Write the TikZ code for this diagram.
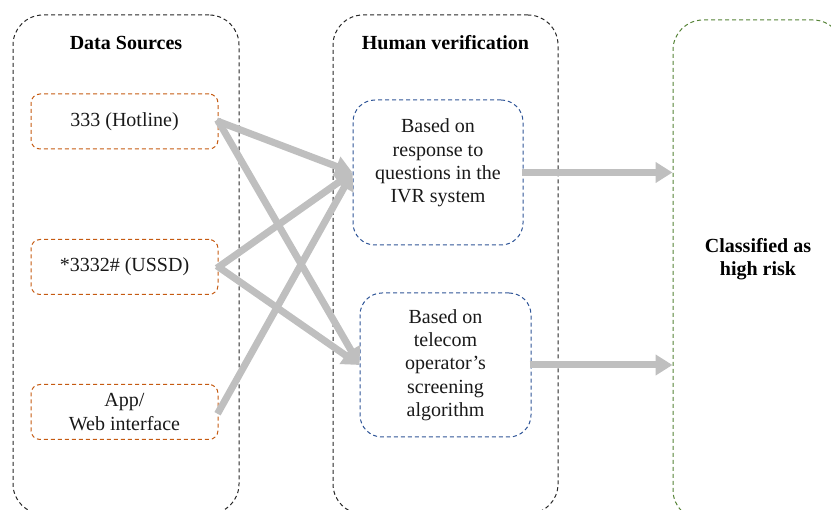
\documentclass[tikz,border=0pt]{standalone}
\usepackage{fontspec}
\setmainfont{Liberation Serif}
\usetikzlibrary{arrows.meta}
\definecolor{srcorange}{HTML}{C55A11}
\definecolor{verblue}{HTML}{2F5597}
\definecolor{resgreen}{HTML}{548235}
\definecolor{flowgray}{HTML}{BFBFBF}
\tikzset{
  bodyfont/.style={font=\fontsize{20}{23.3}\selectfont, align=center, text=black!90},
  panel/.style={draw=black!85, line width=1pt, dash pattern=on 4pt off 3pt,
    rounded corners=30pt, rectangle},
  srcbox/.style={draw=srcorange, line width=1pt, dash pattern=on 4pt off 3pt,
    rounded corners=9pt, rectangle, minimum width=187pt, minimum height=55pt,
    bodyfont},
  verbox/.style={draw=verblue, line width=1pt, dash pattern=on 4pt off 3pt,
    rounded corners=22pt, rectangle, minimum width=170pt, minimum height=145pt,
    bodyfont},
  headtext/.style={font=\fontsize{20}{23.3}\selectfont\bfseries, align=center},
  flow/.style={draw=flowgray, line width=7pt,
    -{Triangle[length=17pt,width=20pt]}, shorten <=-2pt}
}
\begin{document}
\begin{tikzpicture}[x=1pt,y=-1pt]
\useasboundingbox (0,0) rectangle (831,510);
\clip (0,0) rectangle (831,510);

% three column panels
\node[panel, minimum width=226pt, minimum height=499pt] (c1) at (126,264.5) {};
\node[panel, minimum width=225pt, minimum height=499pt] (c2) at (445.5,264.5) {};
\node[panel, draw=resgreen, minimum width=170pt, minimum height=500pt] (c3) at (758,270) {};

% panel titles
\node[headtext] (t1) at (126,43) {Data Sources};
\node[headtext] (t2) at (445.5,43) {Human verification};
\node[headtext] (t3) at (758,259) {Classified as\\high risk};

% data sources
\node[srcbox] (s1) at (124.5,121.5) {333 (Hotline)};
\node[srcbox] (s2) at (124.5,267) {*3332\# (USSD)};
\node[srcbox] (s3) at (124.5,412) {App/\\Web interface};

% verification steps; the first one's text sits above the box centre
\node[verbox] (vA) at (438,172.5) {};
\node[bodyfont] (vAtext) at (438,163) {Based on\\response to\\questions in the\\IVR system};
\node[verbox, minimum width=171pt, minimum height=144pt] (vB) at (445.5,365) {Based on\\telecom\\operator’s\\screening\\algorithm};

% flows
\draw[flow] (s1.east) -- (vA.west);
\draw[flow] (s1.east) -- (vB.west);
\draw[flow] (s2.east) -- (vA.west);
\draw[flow] (s2.east) -- (vB.west);
\draw[flow] (s3.east) -- (vA.west);
\draw[flow] (vA.east) -- (vA.east -| c3.west);
\draw[flow] (vB.east) -- (vB.east -| c3.west);
\end{tikzpicture}
\end{document}
